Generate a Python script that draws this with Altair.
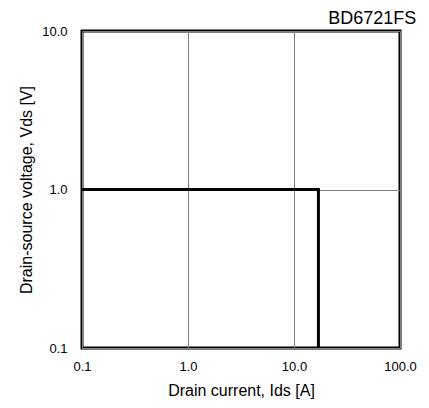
import altair as alt
import pandas as pd

# Safe operating area boundary (Ids [A], Vds [V])
ids_vals = [0.1, 17.0, 17.0]
vds_vals = [1.0, 1.0, 0.1]
order_vals = [0, 1, 2]

x_ticks = [0.1, 1, 10, 100]
y_ticks = [0.1, 1, 10]

df = pd.DataFrame({"ids": ids_vals, "vds": vds_vals, "o": order_vals})

FONT = "Liberation Sans"

x_enc = alt.X(
    "ids:Q",
    scale=alt.Scale(type="log", domain=[0.1, 100], nice=False),
    axis=alt.Axis(
        values=x_ticks,
        labelExpr="format(datum.value, '.1f')",
        title="Drain current, Ids [A]",
        grid=True,
        gridColor="#808080",
        gridWidth=1,
        ticks=False,
        domain=False,
        labelFlush=False,
        labelFont=FONT,
        labelFontSize=13,
        labelColor="#000000",
        labelPadding=12,
        titleFont=FONT,
        titleFontSize=16,
        titleFontWeight="normal",
        titleColor="#000000",
        titlePadding=9,
    ),
)

y_enc = alt.Y(
    "vds:Q",
    scale=alt.Scale(type="log", domain=[0.1, 10], nice=False),
    axis=alt.Axis(
        values=y_ticks,
        labelExpr="format(datum.value, '.1f')",
        title="Drain-source voltage, Vds [V]",
        grid=True,
        gridColor="#808080",
        gridWidth=1,
        ticks=False,
        domain=False,
        labelFlush=False,
        labelFont=FONT,
        labelFontSize=13,
        labelColor="#000000",
        labelPadding=15,
        titleFont=FONT,
        titleFontSize=16,
        titleFontWeight="normal",
        titleColor="#000000",
        titlePadding=7,
    ),
)

chart = (
    alt.Chart(df)
    .mark_line(color="#000000", strokeWidth=3, clip=True)
    .encode(x=x_enc, y=y_enc, order="o:Q")
    .properties(
        width=318,
        height=317,
        title=alt.TitleParams(
            "BD6721FS",
            anchor="end",
            font=FONT,
            fontSize=18,
            fontWeight="normal",
            color="#000000",
            offset=0,
            dy=3,
        ),
        autosize=alt.AutoSizeParams(type="none"),
        padding={"left": 74, "top": 23, "right": 20, "bottom": 52},
    )
    .configure_view(stroke="#000000", strokeWidth=3)
)

chart.save("out.html", embed_options={"renderer": "svg", "actions": False})
